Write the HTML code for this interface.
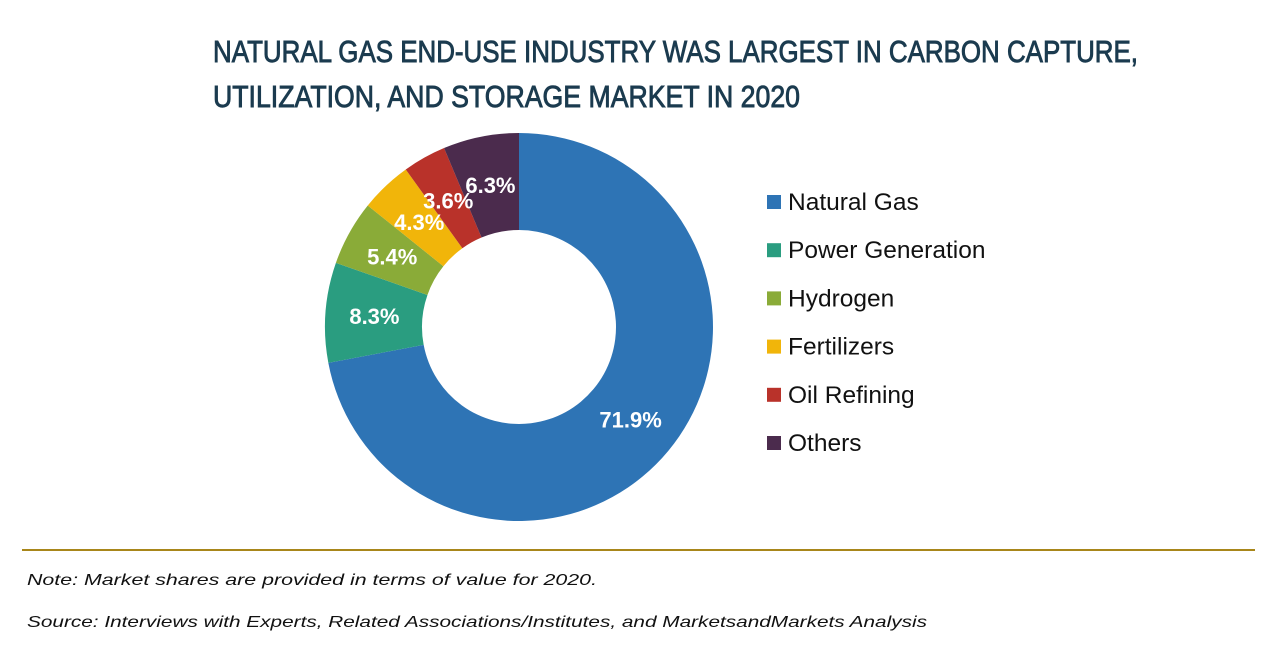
<!DOCTYPE html>
<html><head><meta charset="utf-8"><style>
body{margin:0;background:#fff;width:1280px;height:670px;overflow:hidden}
svg{display:block}
</style></head><body>
<svg width="1280" height="670" id="chart">
<text x="213" y="62" font-family="Liberation Sans Narrow, Liberation Sans, sans-serif" font-size="31" fill="#1b3b4f" stroke="#1b3b4f" stroke-width="0.9" textLength="925" lengthAdjust="spacingAndGlyphs">NATURAL GAS END-USE INDUSTRY WAS LARGEST IN CARBON CAPTURE,</text>
<text x="213" y="107" font-family="Liberation Sans Narrow, Liberation Sans, sans-serif" font-size="31" fill="#1b3b4f" stroke="#1b3b4f" stroke-width="0.9" textLength="587" lengthAdjust="spacingAndGlyphs">UTILIZATION, AND STORAGE MARKET IN 2020</text>
<g id="slices"></g>
<g id="labels"></g>
<g id="legend"></g>
<line x1="22" y1="550" x2="1255" y2="550" stroke="#a8861a" stroke-width="2"/>
<text x="27" y="585" font-family="Liberation Sans, sans-serif" font-style="italic" font-size="16" fill="#111" textLength="570" lengthAdjust="spacingAndGlyphs">Note: Market shares are provided in terms of value for 2020.</text>
<text x="27" y="627" font-family="Liberation Sans, sans-serif" font-style="italic" font-size="16" fill="#111" textLength="900" lengthAdjust="spacingAndGlyphs">Source: Interviews with Experts, Related Associations/Institutes, and MarketsandMarkets Analysis</text>
</svg>
<script>
const categories = ["Natural Gas","Power Generation","Hydrogen","Fertilizers","Oil Refining","Others"];
const values = [71.9, 8.3, 5.4, 4.3, 3.6, 6.3];
const valueLabels = ["71.9%","8.3%","5.4%","4.3%","3.6%","6.3%"];
const colors = ["#2e74b5","#2a9d80","#8aab38","#f1b50a","#b9322a","#4b2b4d"];
const NS="http://www.w3.org/2000/svg";
const cx=519, cy=327, R=194, r=97;
const total = values.reduce((a,b)=>a+b,0);
function ang(v){return v/total*2*Math.PI;}
function pt(a,rad){return [cx+rad*Math.sin(a), cy-rad*Math.cos(a)];}
let acc=0;
const gS=document.getElementById('slices'), gL=document.getElementById('labels'), gG=document.getElementById('legend');
values.forEach((v,i)=>{
  const a0=ang(acc), a1=ang(acc+v); acc+=v;
  const large=(a1-a0)>Math.PI?1:0;
  const [x0,y0]=pt(a0,R),[x1,y1]=pt(a1,R),[x2,y2]=pt(a1,r),[x3,y3]=pt(a0,r);
  const p=document.createElementNS(NS,'path');
  p.setAttribute('d',`M${x0},${y0}A${R},${R} 0 ${large} 1 ${x1},${y1}L${x2},${y2}A${r},${r} 0 ${large} 0 ${x3},${y3}Z`);
  p.setAttribute('fill',colors[i]);
  
  
  gS.appendChild(p);
  const [lx,ly]=pt((a0+a1)/2,145);
  const t=document.createElementNS(NS,'text');
  t.setAttribute('x',lx);t.setAttribute('y',ly+8);
  t.setAttribute('text-anchor','middle');
  t.setAttribute('font-family','Liberation Sans, sans-serif');
  t.setAttribute('font-size','22');t.setAttribute('font-weight','bold');t.setAttribute('fill','#fff');
  t.textContent=valueLabels[i];
  
  
  gL.appendChild(t);
  const y=202+i*48.2;
  const s=document.createElementNS(NS,'rect');
  s.setAttribute('x',767);s.setAttribute('y',y-7);s.setAttribute('width',14);s.setAttribute('height',14);s.setAttribute('fill',colors[i]);
  
  
  gG.appendChild(s);
  const lt=document.createElementNS(NS,'text');
  lt.setAttribute('x',788);lt.setAttribute('y',y+8);
  lt.setAttribute('font-family','Liberation Sans, sans-serif');lt.setAttribute('font-size','24.5');lt.setAttribute('fill','#111');
  lt.textContent=categories[i];
  
  
  gG.appendChild(lt);
});
</script>
</body></html>
